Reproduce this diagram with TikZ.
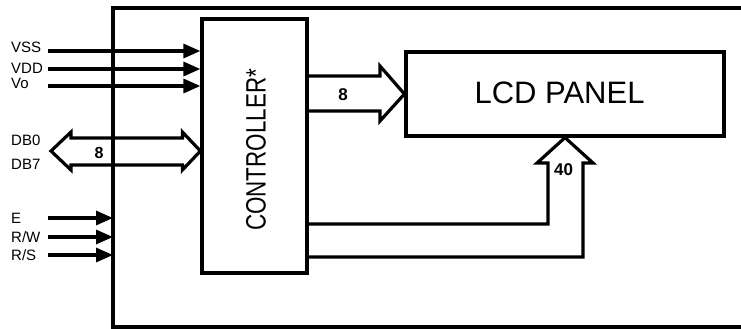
\documentclass[tikz,border=0pt]{standalone}
\usepackage{fontspec}
\setmainfont{Liberation Sans}
\usetikzlibrary{arrows.meta,calc}
\tikzset{
  wire/.style={line width=3.2pt, line cap=butt},
  inarrow/.style={wire, -{Triangle[length=17pt,width=14pt]}},
  box/.style={draw, line width=3.2pt, inner sep=0pt},
  fat/.style={line width=3.2pt, line join=miter},
  pin/.style={anchor=west, inner sep=0pt, font=\fontsize{15}{15}\selectfont},
  num/.style={inner sep=0pt, font=\fontsize{17}{17}\selectfont\bfseries}
}
\begin{document}
\begin{tikzpicture}[x=1pt,y=-1pt]
\useasboundingbox (0,0) rectangle (741,329);
% outer frame
\coordinate (ftr) at (745,8);
\coordinate (ftl) at (113,8);
\coordinate (fbl) at (113,327);
\coordinate (fbr) at (745,327);
\draw[wire, line join=miter] (ftr) -- (ftl) -- (fbl) -- (fbr);
% controller and panel
\node[box, minimum width=105pt, minimum height=254pt] (ctrl) at (254.5,146) {};
\node[rotate=90, inner sep=0pt] (ctrltxt) at (256,150)
  {\scalebox{0.8}[1]{\fontsize{28}{28}\selectfont CONTROLLER*}};
\node[box, minimum width=318pt, minimum height=84pt] (lcd) at (565,94) {};
\node[inner sep=0pt, font=\fontsize{31}{31}\selectfont] (lcdtxt) at (559.5,93) {LCD PANEL};
% power inputs
\node[pin] (lvss) at (11,47.5) {VSS};
\node[pin] (lvdd) at (11,68) {VDD};
\node[pin] (lvo) at (11,83) {Vo};
\coordinate (vss) at (48,51);
\coordinate (vdd) at (48,69);
\coordinate (vo) at (48,86);
\draw[inarrow] (vss) -- (vss -| ctrl.west);
\draw[inarrow] (vdd) -- (vdd -| ctrl.west);
\draw[inarrow] (vo) -- (vo -| ctrl.west);
% control inputs
\node[pin] (le) at (11,218) {E};
\node[pin] (lrw) at (11,237) {R/W};
\node[pin] (lrs) at (11,255) {R/S};
\coordinate (e) at (48,218);
\coordinate (rw) at (48,237);
\coordinate (rs) at (48,255);
\draw[inarrow] (e) -- (e -| fbl);
\draw[inarrow] (rw) -- (rw -| fbl);
\draw[inarrow] (rs) -- (rs -| fbl);
% data bus
\node[pin] (ldb0) at (11,140) {DB0};
\node[pin] (ldb7) at (11,164) {DB7};
\coordinate (dbl) at (51,151);
\coordinate (dbr) at (ctrl.west |- dbl);
\draw[fat] (dbr) -- ++(-18,-19) -- ++(0,6) -- (71,138) -- (71,132) -- (dbl)
  -- (71,170) -- (71,165) -- ($(dbr)+(-18,14)$) -- ++(0,5) -- cycle;
\node[num, font=\fontsize{16}{16}\selectfont\bfseries] (n8a) at (99,152.5) {8};
% controller to panel (8)
\coordinate (tip8) at (lcd.west);
\draw[fat] (ctrl.east |- 0,76) -- (380,76) -- (380,66) -- (tip8) -- (380,121) -- (380,111) -- (ctrl.east |- 0,111);
\node[num] (n8b) at (343,95) {8};
% controller to panel (40)
\coordinate (tip40) at (lcd.south);
\draw[fat] (ctrl.east |- 0,224) -- (548,224) -- (548,163) -- (537,163) -- (tip40)
  -- (593,163) -- (583,163) -- (583,257) -- (ctrl.east |- 0,257);
\node[num] (n40) at (563.5,170) {40};
\end{tikzpicture}
\end{document}
